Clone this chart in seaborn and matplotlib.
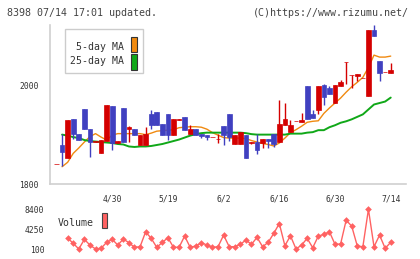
import numpy as np
import pandas as pd
import matplotlib
matplotlib.use("Agg")
import matplotlib.pyplot as plt
from matplotlib.patches import Rectangle
import seaborn as sns

# === Data (one entry per trading day) ===
opens = [1840, 1879, 1852, 1931, 1901, 1951, 1911, 1885, 1863, 1887,
         1958, 1883, 1953, 1911, 1911, 1879, 1879, 1941, 1945, 1921,
         1941, 1899, 1930, 1935, 1901, 1911, 1901, 1899, 1895, 1891,
         1917, 1941, 1881, 1881, 1899, 1883, 1885, 1883, 1891, 1901,
         1885, 1919, 1905, 1927, 1925, 1998, 1941, 1950, 2000, 1994,
         1964, 1998, 2048, 2020, 2018, 2014, 1978, 2111, 2050, 2026,
         2024]
closes = [1841, 1865, 1929, 1901, 1889, 1911, 1885, 1887, 1889, 1960,
          1883, 1887, 1885, 1915, 1899, 1899, 1901, 1919, 1919, 1899,
          1899, 1931, 1931, 1909, 1911, 1899, 1897, 1895, 1895, 1891,
          1899, 1895, 1899, 1905, 1852, 1885, 1869, 1891, 1887, 1881,
          1921, 1931, 1919, 1927, 1929, 1931, 1933, 1998, 1976, 1982,
          2000, 2006, 2048, 2020, 2022, 2014, 2111, 2099, 2024, 2026,
          2030]
highs = [1841, 1901, 1929, 1931, 1901, 1951, 1911, 1887, 1889, 1960,
         1958, 1887, 1953, 1917, 1911, 1899, 1915, 1950, 1945, 1921,
         1941, 1931, 1931, 1935, 1919, 1911, 1901, 1899, 1895, 1901,
         1917, 1941, 1899, 1905, 1899, 1885, 1901, 1891, 1891, 1901,
         1970, 1964, 1929, 1927, 1943, 1998, 1950, 1998, 2002, 1998,
         2000, 2010, 2048, 2020, 2022, 2014, 2111, 2121, 2050, 2026,
         2046]
lows = [1840, 1836, 1852, 1891, 1889, 1911, 1854, 1885, 1863, 1887,
        1869, 1883, 1885, 1885, 1899, 1879, 1879, 1911, 1919, 1899,
        1889, 1899, 1930, 1909, 1901, 1899, 1893, 1889, 1895, 1883,
        1879, 1887, 1881, 1881, 1852, 1881, 1861, 1873, 1873, 1875,
        1885, 1919, 1905, 1927, 1925, 1931, 1933, 1941, 1960, 1982,
        1964, 1998, 2002, 1994, 2008, 2014, 1978, 2099, 2008, 2026,
        2024]
ma5 = [np.nan, 1835, 1844, 1862, 1873, 1885, 1896, 1902, 1895, 1889,
       1899, 1902, 1902, 1902, 1902, 1902, 1900, 1903, 1907, 1908,
       1909, 1910, 1914, 1915, 1916, 1916, 1915, 1911, 1904, 1899,
       1894, 1893, 1893, 1893, 1892, 1888, 1885, 1882, 1880, 1877,
       1883, 1893, 1904, 1910, 1917, 1925, 1927, 1928, 1943, 1954,
       1964, 1974, 1986, 1997, 2006, 2016, 2036, 2061, 2057, 2057,
       2059]
ma25 = [np.nan, 1900, 1898, 1895, 1893, 1889, 1887, 1886, 1885, 1884,
        1883, 1881, 1880, 1876, 1875, 1876, 1876, 1877, 1879, 1881,
        1884, 1887, 1890, 1894, 1898, 1901, 1903, 1904, 1904, 1904,
        1904, 1904, 1904, 1904, 1903, 1901, 1900, 1900, 1900, 1900,
        1900, 1900, 1902, 1902, 1902, 1904, 1905, 1909, 1909, 1915,
        1919, 1924, 1927, 1931, 1936, 1941, 1951, 1961, 1964, 1967,
        1975]
volume = [np.nan, np.nan, 2380, 1280, 100, 2110, 930, 100, 250, 1490,
          2110, 930, 2180, 1410, 450, 580, 3690, 2320, 450, 1490,
          2450, 450, 450, 2800, 450, 720, 1410, 930, 450, 580,
          3000, 580, 580, 1080, 1970, 1080, 2530, 580, 1490, 3360,
          5430, 790, 2860, 100, 930, 2320, 370, 2800, 3150, 3690,
          1080, 1140, 6120, 4870, 720, 580, 8400, 580, 3000, 250,
          1490]
date_labels = ["4/30", "5/19", "6/2", "6/16", "6/30", "7/14"]
date_pos = [10, 20, 30, 40, 50, 60]

df = pd.DataFrame({"day": np.arange(len(opens)), "open": opens, "close": closes,
                   "high": highs, "low": lows, "ma5": ma5, "ma25": ma25,
                   "volume": volume})

RED, BLUE = "#d40000", "#4040c0"
ORANGE, GREEN = "#f08a10", "#10a818"
VOLC = "#ff6262"
W, H = 420, 259

sns.set_style("white")
plt.rcParams["font.family"] = ["DejaVu Sans Mono"]

fig = plt.figure(figsize=(4.2, 2.59), dpi=100)
XLIM = (-1.17, 62.69)

# === Price panel ===
ax = fig.add_axes([50 / W, 1 - 184 / H, 355.7 / W, 159 / H])
sns.lineplot(data=df, x="day", y="ma5", ax=ax, color=ORANGE, lw=1.0, zorder=2)
sns.lineplot(data=df, x="day", y="ma25", ax=ax, color=GREEN, lw=1.4, zorder=2)

up = df["close"] >= df["open"]
cols = np.where(up, RED, BLUE)
ax.vlines(df["day"], df["low"], df["high"], colors=cols, lw=1.0, zorder=3)
ax.bar(df["day"], (df["close"] - df["open"]).abs(),
       bottom=df[["open", "close"]].min(axis=1), width=0.84,
       color=cols, edgecolor=cols, lw=0.5, zorder=4)

ax.set_xlim(*XLIM)
ax.set_ylim(1800, 2122)
ax.set_xlabel("")
ax.set_ylabel("")
for s in ["top", "right"]:
    ax.spines[s].set_visible(False)
for s in ["left", "bottom"]:
    ax.spines[s].set_color("#d0d0d0")
    ax.spines[s].set_linewidth(1.2)
ax.set_yticks([1800, 2000])
ax.set_yticklabels(["1800", "2000"], fontsize=5.8, color="#333333")
ax.tick_params(axis="y", length=4, width=1, color="#d0d0d0", pad=4)
ax.set_xticks(date_pos)
ax.set_xticklabels(date_labels, fontsize=5.8, color="#333333")
ax.set_xticks(np.linspace(XLIM[0], XLIM[1], 12), minor=True)
ax.tick_params(axis="x", which="major", length=0, pad=7.5)
ax.tick_params(axis="x", which="minor", length=4.3, width=1, color="#d0d0d0")

# legend box
fig.add_artist(Rectangle((65 / W, 1 - 72.7 / H), 78.3 / W, 43.7 / H,
                         transform=fig.transFigure, facecolor="white",
                         edgecolor="#cccccc", lw=1))
fig.text(123.5 / W, 1 - 46.5 / H, "5-day MA", ha="right", va="center",
         fontsize=7.1, color="#333333")
fig.text(123.5 / W, 1 - 61 / H, "25-day MA", ha="right", va="center",
         fontsize=7.1, color="#333333")
fig.add_artist(Rectangle((131 / W, 1 - 52.3 / H), 6.3 / W, 15 / H,
                         transform=fig.transFigure, facecolor=ORANGE,
                         edgecolor="#333333", lw=0.8))
fig.add_artist(Rectangle((131 / W, 1 - 70 / H), 6.3 / W, 15.7 / H,
                         transform=fig.transFigure, facecolor=GREEN,
                         edgecolor="#333333", lw=0.8))

# === Volume panel ===
axv = fig.add_axes([50 / W, 1 - 254 / H, 355.7 / W, 51 / H])
sns.lineplot(data=df, x="day", y="volume", ax=axv, color=VOLC, lw=1.0,
             marker="D", markersize=3.4, markeredgewidth=0)
axv.set_xlim(*XLIM)
axv.set_ylim(-945, 9717)
axv.set_xlabel("")
axv.set_ylabel("")
for s in axv.spines.values():
    s.set_visible(False)
axv.set_xticks([])
axv.set_yticks([100, 4250, 8400])
axv.set_yticklabels(["100", "4250", "8400"], fontsize=5.8, color="#333333")
axv.tick_params(axis="y", length=0, pad=4)

fig.text(58 / W, 1 - 222.5 / H, "Volume", ha="left", va="center",
         fontsize=7.1, color="#333333")
fig.add_artist(Rectangle((101.7 / W, 1 - 228 / H), 5.6 / W, 15 / H,
                         transform=fig.transFigure, facecolor=VOLC,
                         edgecolor="#444444", lw=0.8))

# === Header ===
fig.text(7 / W, 1 - 13 / H, "8398 07/14 17:01 updated.", ha="left",
         va="center", fontsize=7.2, color="#444444")
fig.text(409 / W, 1 - 13 / H, "(C)https://www.rizumu.net/", ha="right",
         va="center", fontsize=7.2, color="#444444")

fig.savefig("out.png", dpi=100)
